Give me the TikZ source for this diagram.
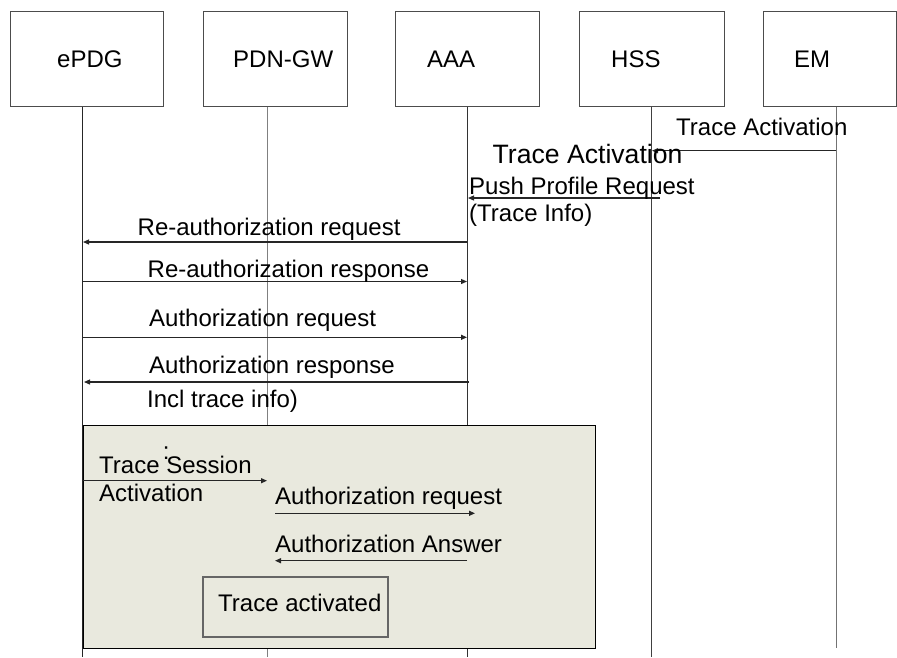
\documentclass[tikz,border=0pt]{standalone}
\usepackage{fontspec}
\setmainfont{Liberation Sans}
\usetikzlibrary{arrows.meta}
\definecolor{shade}{RGB}{233,233,222}
\begin{document}
\begin{tikzpicture}[x=1pt,y=-1pt,
  lbl/.style={inner sep=0pt, anchor=base west, font=\fontsize{24}{28}\selectfont, text=black},
  biglbl/.style={inner sep=0pt, anchor=base west, font=\fontsize{26.6}{30}\selectfont, text=black},
  ent/.style={draw=black!70, line width=1pt, inner sep=0pt},
  life/.style={line width=1pt},
  msg/.style={line width=1.2pt, draw=black!85, -{Triangle[length=6pt,width=5pt]}}]
\useasboundingbox (0,0) rectangle (897,657);

% entity boxes
\node[ent, minimum width=153pt, minimum height=95pt] (bE) at (86.5,58.5) {};
\node[ent, minimum width=144pt, minimum height=95pt] (bP) at (275,58.5) {};
\node[ent, minimum width=144pt, minimum height=95pt] (bA) at (467,58.5) {};
\node[ent, minimum width=145pt, minimum height=95pt] (bH) at (651.5,58.5) {};
\node[ent, minimum width=133pt, minimum height=95pt] (bM) at (829.5,58.5) {};

\node[lbl] (tE) at (57,67.3) {ePDG};
\node[lbl] (tP) at (233,67.3) {PDN-GW};
\node[lbl] (tA) at (427,67.3) {AAA};
\node[lbl] (tH) at (611,67.3) {HSS};
\node[lbl] (tM) at (794,67.3) {EM};

% lifelines
\coordinate (eE) at (82,657);
\coordinate (eP) at (267,657);
\coordinate (eA) at (467,657);
\coordinate (eH) at (651,657);
\coordinate (eM) at (836,648);
\draw[life, draw=black!85] (bE.south -| eE) -- (eE);
\draw[life, draw=black!50] (bP.south -| eP) -- (eP);
\draw[life, draw=black!80] (bA.south -| eA) -- (eA);
\draw[life, draw=black!75] (bH.south -| eH) -- (eH);
\draw[life, draw=black!55] (bM.south -| eM) -- (eM);

% EM -> HSS
\coordinate (m1a) at (836,150.7);
\coordinate (m1b) at (652,150.7);
\draw[msg] (m1a) -- (m1b);
\node[lbl] (l1) at (676,135) {Trace Activation};
\node[biglbl] (l2) at (492.5,163.3) {Trace Activation};

% HSS -> AAA
\coordinate (m2a) at (660,198);
\coordinate (m2b) at (468,198);
\draw[msg] (m2a) -- (m2b);
\node[lbl] (l3) at (469,194.3) {Push Profile Request};
\node[lbl] (l4) at (469,221.7) {(Trace Info)};

% AAA -> ePDG
\coordinate (m3a) at (467,242);
\coordinate (m3b) at (83,242);
\draw[msg] (m3a) -- (m3b);
\node[lbl] (l5) at (137.5,235) {Re-authorization request};

% ePDG -> AAA
\coordinate (m4a) at (82,281.5);
\coordinate (m4b) at (467,281.5);
\draw[msg] (m4a) -- (m4b);
\node[lbl] (l6) at (147.5,277.7) {Re-authorization response};

\coordinate (m5a) at (82,337.3);
\coordinate (m5b) at (467,337.3);
\draw[msg] (m5a) -- (m5b);
\node[lbl] (l7) at (149,326) {Authorization request};

\coordinate (m6a) at (469,382);
\coordinate (m6b) at (84,382);
\draw[msg] (m6a) -- (m6b);
\node[lbl] (l8) at (149,373.3) {Authorization response};
\node[lbl] (l9) at (147,407.7) {Incl trace info)};

% shaded region
\node[draw=black, fill=shade, line width=1pt, inner sep=0pt,
      minimum width=512pt, minimum height=223pt] (sbox) at (339,536.5) {};

\coordinate (m7a) at (82,480.7);
\coordinate (m7b) at (267,480.7);
\draw[msg] (m7a) -- (m7b);
\node[lbl] (l10) at (99,473.3) {Trace Session};
\node[lbl] (l11) at (99,501.7) {Activation};
\node[lbl] (ldot) at (162.6,459.5) {:};

\coordinate (m8a) at (275,513.3);
\coordinate (m8b) at (475,513.3);
\draw[msg] (m8a) -- (m8b);
\node[lbl] (l12) at (275,504.3) {Authorization request};

\coordinate (m9a) at (467,560.7);
\coordinate (m9b) at (275,560.7);
\draw[msg] (m9a) -- (m9b);
\node[lbl] (l13) at (275,552.7) {Authorization Answer};

\node[draw=black!60, fill=shade, line width=1.2pt, inner sep=0pt,
      minimum width=185pt, minimum height=60pt] (tbox) at (295.5,607) {};
\node[lbl] (l14) at (218,611) {Trace activated};
\end{tikzpicture}
\end{document}
